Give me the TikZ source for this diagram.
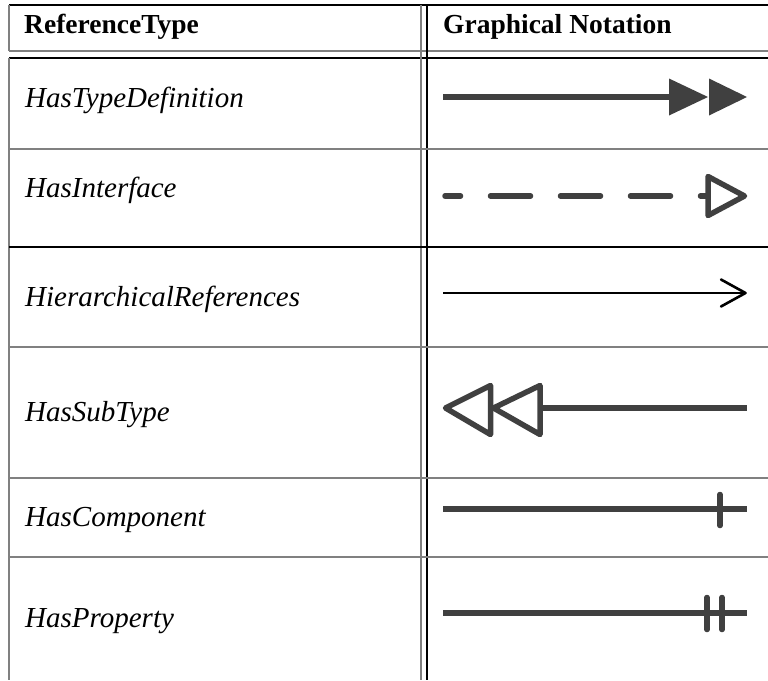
\documentclass[tikz,border=0pt]{standalone}
\usepackage{fontspec}
\setmainfont{Liberation Serif}
\usetikzlibrary{positioning}
\definecolor{rulegray}{RGB}{128,128,128}
\definecolor{notegray}{RGB}{64,64,64}
\tikzset{
  graybar/.style={draw=rulegray, line width=1.8pt},
  blackbar/.style={draw=black, line width=1.2pt},
  notation/.style={draw=notegray, line width=5.5pt},
  headtext/.style={anchor=base west, inner sep=0pt, font=\fontsize{27.5}{30}\selectfont\bfseries},
  typetext/.style={anchor=base west, inner sep=0pt, font=\fontsize{29}{31}\selectfont\itshape},
}

\begin{document}
\begin{tikzpicture}[x=1pt, y=-1pt]
\useasboundingbox (0,0) rectangle (768,680);
% table rules
\draw[blackbar] (9,5) -- (768,5);
\draw[graybar] (9,51) -- (768,51);
\draw[blackbar] (9,58) -- (768,58);
\draw[graybar] (9,5) -- (9,51);
\draw[graybar] (9,58) -- (9,680);
\draw[graybar] (421,5) -- (421,680);
\draw[blackbar] (427,5) -- (427,680);
\draw[graybar] (9,149) -- (768,149);
\draw[blackbar] (9,247) -- (768,247);
\draw[graybar] (9,347) -- (768,347);
\draw[graybar] (9,478) -- (768,478);
\draw[graybar] (9,557) -- (768,557);
% header
\node[headtext] (reftype) at (24,33) {ReferenceType};
\node[headtext] (notation) at (443,33) {Graphical Notation};
% reference types
\node[typetext] (typedef) at (25,107) {HasTypeDefinition};
\node[typetext] (interface) at (25,197) {HasInterface};
\node[typetext] (hierarchical) at (25,306) {HierarchicalReferences};
\node[typetext] (subtype) at (25,421) {HasSubType};
\node[typetext] (component) at (25,526) {HasComponent};
\node[typetext] (property) at (25,627) {HasProperty};
% HasTypeDefinition
\draw[notation] (443,97) -- (670,97);
\fill[notegray] (669,78.5) -- (708,97) -- (669,115.5) -- cycle;
\fill[notegray] (709,78.5) -- (747,97) -- (709,115.5) -- cycle;
% HasInterface
\draw[notation, line cap=round, dash pattern=on 40pt off 30pt, dash phase=24.5pt] (445,196) -- (708,196);
\draw[notation, line join=round] (708,176.5) -- (744.5,196) -- (708,215.5) -- cycle;
% HierarchicalReferences
\draw[black, line width=2.4pt] (443,293) -- (745,293);
\draw[black, line width=2.6pt, line cap=round, line join=round] (721,279.5) -- (745.5,293) -- (721,306.5);
% HasSubType
\draw[notation] (540,408) -- (747,408);
\draw[notation, line join=round] (490.5,385.5) -- (445.5,408) -- (490.5,434.5) -- cycle;
\draw[notation, line join=round] (540,385.5) -- (493.5,408) -- (540,434.5) -- cycle;
% HasComponent
\draw[notation] (443,509) -- (747,509);
\draw[notation, line cap=round] (720,494.5) -- (720,525.5);
% HasProperty
\draw[notation] (443,613) -- (747,613);
\draw[notation, line cap=round] (707,597.5) -- (707,629.5);
\draw[notation, line cap=round] (722,597.5) -- (722,629.5);
\end{tikzpicture}
\end{document}
